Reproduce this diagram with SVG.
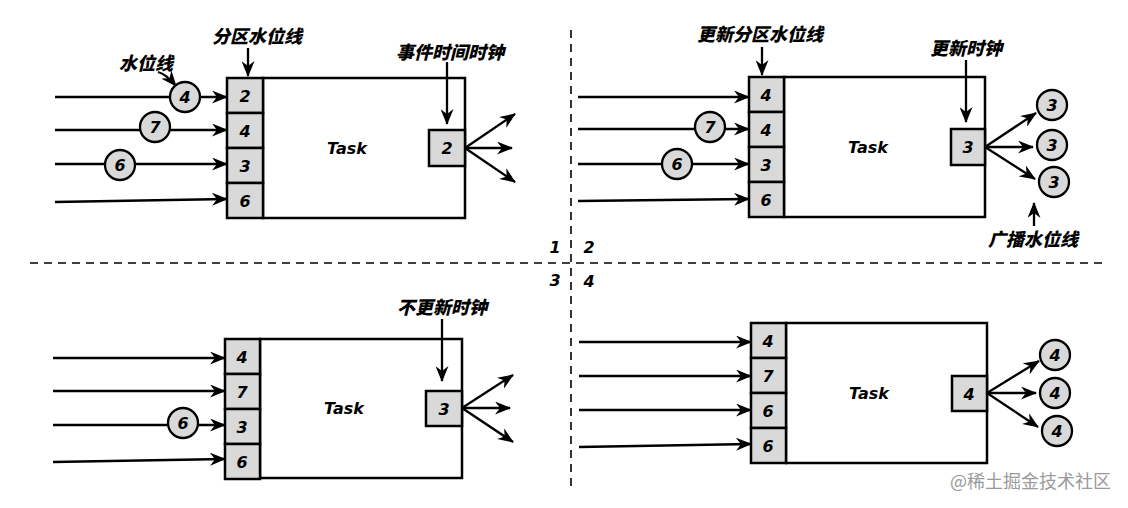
<svg xmlns="http://www.w3.org/2000/svg" width="1128" height="508" viewBox="0 0 1128 508">
<style>
.bx{fill:#d9d9d9;stroke:#000;stroke-width:2.5}
.tk{fill:#fff;stroke:#000;stroke-width:2.5}
.ln{stroke:#000;stroke-width:2.3;fill:none}
.dash{stroke:#000;stroke-width:1.6;stroke-dasharray:8,6;fill:none}
.num{font-family:"DejaVu Sans",sans-serif;font-weight:bold;font-style:italic;font-size:16px;text-anchor:middle;dominant-baseline:central}
.lab{font-family:"Noto Sans CJK SC","DejaVu Sans",sans-serif;font-weight:900;font-style:italic;font-size:18px;text-anchor:middle;dominant-baseline:central}
.ci{fill:#d9d9d9;stroke:#000;stroke-width:2.3}
.wm{font-family:"Noto Sans CJK SC",sans-serif;font-size:18px;fill:#9a9a9a}
</style>
<defs>
<marker id="ah" viewBox="0 0 16 13" refX="15" refY="6.5" markerWidth="16" markerHeight="13" markerUnits="userSpaceOnUse" orient="auto">
<path d="M0,0 L16,6.5 L0,13 L5,6.5 z" fill="#000"/>
</marker>
</defs>
<rect width="1128" height="508" fill="#fff"/>

<g id="dividers">
<line class="dash" x1="571" y1="30" x2="571" y2="492"/>
<line class="dash" x1="30" y1="263" x2="1105" y2="263"/>
<text class="num" x="555" y="247">1</text>
<text class="num" x="589" y="247">2</text>
<text class="num" x="555" y="280">3</text>
<text class="num" x="589" y="281">4</text>
</g>

<g id="connectors">
<line class="ln" x1="55" y1="97" x2="227" y2="97" marker-end="url(#ah)"/>
<line class="ln" x1="55" y1="130" x2="227" y2="130" marker-end="url(#ah)"/>
<line class="ln" x1="55" y1="164" x2="227" y2="164" marker-end="url(#ah)"/>
<line class="ln" x1="55" y1="202" x2="227" y2="199" marker-end="url(#ah)"/>
<line class="ln" x1="248" y1="48" x2="248" y2="76" marker-end="url(#ah)"/>
<path class="ln" d="M158,72 Q166,74 176,86" marker-end="url(#ah)"/>
<line class="ln" x1="465" y1="148" x2="515" y2="114" marker-end="url(#ah)"/>
<line class="ln" x1="465" y1="148" x2="512" y2="148" marker-end="url(#ah)"/>
<line class="ln" x1="465" y1="148" x2="515" y2="182" marker-end="url(#ah)"/>
<line class="ln" x1="578" y1="97" x2="749" y2="97" marker-end="url(#ah)"/>
<line class="ln" x1="578" y1="129" x2="749" y2="129" marker-end="url(#ah)"/>
<line class="ln" x1="578" y1="164" x2="749" y2="164" marker-end="url(#ah)"/>
<line class="ln" x1="578" y1="201" x2="749" y2="199" marker-end="url(#ah)"/>
<line class="ln" x1="762" y1="47" x2="762" y2="75" marker-end="url(#ah)"/>
<line class="ln" x1="985" y1="147" x2="1036" y2="113" marker-end="url(#ah)"/>
<line class="ln" x1="985" y1="147" x2="1033" y2="147" marker-end="url(#ah)"/>
<line class="ln" x1="985" y1="147" x2="1035" y2="179" marker-end="url(#ah)"/>
<line class="ln" x1="1034" y1="226" x2="1034" y2="203" marker-end="url(#ah)"/>
<line class="ln" x1="53" y1="358" x2="225" y2="358" marker-end="url(#ah)"/>
<line class="ln" x1="53" y1="391" x2="225" y2="391" marker-end="url(#ah)"/>
<line class="ln" x1="53" y1="425" x2="225" y2="425" marker-end="url(#ah)"/>
<line class="ln" x1="53" y1="462" x2="225" y2="459" marker-end="url(#ah)"/>
<line class="ln" x1="462" y1="408" x2="513" y2="375" marker-end="url(#ah)"/>
<line class="ln" x1="462" y1="408" x2="510" y2="408" marker-end="url(#ah)"/>
<line class="ln" x1="462" y1="408" x2="513" y2="442" marker-end="url(#ah)"/>
<line class="ln" x1="579" y1="342" x2="751" y2="342" marker-end="url(#ah)"/>
<line class="ln" x1="579" y1="376" x2="751" y2="376" marker-end="url(#ah)"/>
<line class="ln" x1="579" y1="410" x2="751" y2="410" marker-end="url(#ah)"/>
<line class="ln" x1="579" y1="447" x2="751" y2="444" marker-end="url(#ah)"/>
<line class="ln" x1="987" y1="393" x2="1039" y2="361" marker-end="url(#ah)"/>
<line class="ln" x1="987" y1="393" x2="1036" y2="393" marker-end="url(#ah)"/>
<line class="ln" x1="987" y1="393" x2="1038" y2="427" marker-end="url(#ah)"/>
</g>

<g id="panel1">
<rect class="tk" x="263" y="78" width="202" height="140"/>
<text class="num" x="347" y="148">Task</text>
<rect class="bx" x="227" y="78" width="36" height="35"/><text class="num" x="245" y="96">2</text>
<rect class="bx" x="227" y="113" width="36" height="35"/><text class="num" x="245" y="131">4</text>
<rect class="bx" x="227" y="148" width="36" height="35"/><text class="num" x="245" y="166">3</text>
<rect class="bx" x="227" y="183" width="36" height="35"/><text class="num" x="245" y="201">6</text>
<rect class="bx" x="429" y="130" width="36" height="36"/><text class="num" x="447" y="148">2</text>
<circle class="ci" cx="185" cy="97" r="15"/><text class="num" x="185" y="97">4</text>
<circle class="ci" cx="155" cy="127" r="15"/><text class="num" x="155" y="127">7</text>
<circle class="ci" cx="120" cy="165" r="15"/><text class="num" x="120" y="165">6</text>
<text class="lab" x="146" y="62">水位线</text>
<text class="lab" x="257" y="35">分区水位线</text>
<text class="lab" x="450" y="51">事件时间时钟</text>
</g>

<g id="panel2">
<rect class="tk" x="784" y="77" width="201" height="140"/>
<text class="num" x="868" y="147">Task</text>
<rect class="bx" x="749" y="77" width="35" height="35"/><text class="num" x="766" y="95">4</text>
<rect class="bx" x="749" y="112" width="35" height="35"/><text class="num" x="766" y="130">4</text>
<rect class="bx" x="749" y="147" width="35" height="35"/><text class="num" x="766" y="165">3</text>
<rect class="bx" x="749" y="182" width="35" height="35"/><text class="num" x="766" y="200">6</text>
<rect class="bx" x="951" y="129" width="34" height="36"/><text class="num" x="968" y="147">3</text>
<circle class="ci" cx="710" cy="127" r="15"/><text class="num" x="710" y="127">7</text>
<circle class="ci" cx="677" cy="164" r="15"/><text class="num" x="677" y="164">6</text>
<circle class="ci" cx="1052" cy="105" r="15"/><text class="num" x="1052" y="105">3</text>
<circle class="ci" cx="1052" cy="145" r="15"/><text class="num" x="1052" y="145">3</text>
<circle class="ci" cx="1054" cy="182" r="15"/><text class="num" x="1054" y="182">3</text>
<text class="lab" x="760" y="33">更新分区水位线</text>
<text class="lab" x="966" y="47">更新时钟</text>
<text class="lab" x="1033" y="238">广播水位线</text>
</g>

<g id="panel3">
<rect class="tk" x="260" y="339" width="202" height="139"/>
<text class="num" x="344" y="408">Task</text>
<rect class="bx" x="225" y="339" width="35" height="35"/><text class="num" x="242" y="357">4</text>
<rect class="bx" x="225" y="374" width="35" height="35"/><text class="num" x="242" y="392">7</text>
<rect class="bx" x="225" y="409" width="35" height="35"/><text class="num" x="242" y="427">3</text>
<rect class="bx" x="225" y="444" width="35" height="35"/><text class="num" x="242" y="462">6</text>
<rect class="bx" x="426" y="391" width="36" height="35"/><text class="num" x="444" y="409">3</text>
<circle class="ci" cx="183" cy="423" r="15"/><text class="num" x="183" y="423">6</text>
<text class="lab" x="442" y="306">不更新时钟</text>
</g>

<g id="panel4">
<rect class="tk" x="786" y="323" width="201" height="140"/>
<text class="num" x="869" y="393">Task</text>
<rect class="bx" x="751" y="323" width="35" height="35"/><text class="num" x="768" y="341">4</text>
<rect class="bx" x="751" y="358" width="35" height="35"/><text class="num" x="768" y="376">7</text>
<rect class="bx" x="751" y="393" width="35" height="35"/><text class="num" x="768" y="411">6</text>
<rect class="bx" x="751" y="428" width="35" height="35"/><text class="num" x="768" y="446">6</text>
<rect class="bx" x="952" y="376" width="35" height="35"/><text class="num" x="969" y="394">4</text>
<circle class="ci" cx="1055" cy="355" r="15"/><text class="num" x="1055" y="355">4</text>
<circle class="ci" cx="1055" cy="393" r="15"/><text class="num" x="1055" y="393">4</text>
<circle class="ci" cx="1057" cy="431" r="15"/><text class="num" x="1057" y="431">4</text>
</g>

<g id="clock-connectors">
<line class="ln" x1="447" y1="62" x2="447" y2="124" marker-end="url(#ah)"/>
<line class="ln" x1="966" y1="60" x2="966" y2="122" marker-end="url(#ah)"/>
<line class="ln" x1="442" y1="319" x2="442" y2="381" marker-end="url(#ah)"/>
</g>

<text class="wm" x="950" y="488">@稀土掘金技术社区</text>
</svg>
